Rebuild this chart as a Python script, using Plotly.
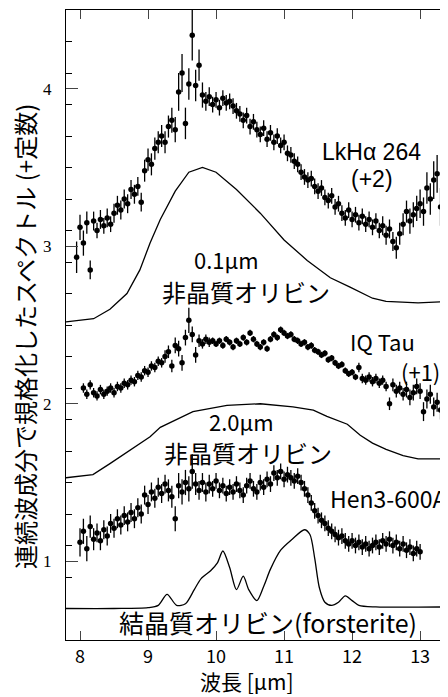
import plotly.graph_objects as go

# ---------------- data ----------------
lk_x = [7.95, 8.00, 8.05, 8.10, 8.15, 8.20, 8.25, 8.30, 8.35, 8.40, 8.45, 8.50, 8.55, 8.60, 8.65, 8.70, 8.75, 8.80, 8.85, 8.90,
        8.95, 9.00, 9.05, 9.10, 9.15, 9.20, 9.25, 9.30, 9.35, 9.40, 9.45, 9.50, 9.55, 9.60, 9.65, 9.70, 9.75, 9.80, 9.85, 9.90,
        9.95, 10.00, 10.05, 10.10, 10.15, 10.20, 10.25, 10.30, 10.35, 10.40, 10.45, 10.50, 10.55, 10.60, 10.65, 10.70, 10.75, 10.80, 10.85, 10.90,
        10.95, 11.00, 11.05, 11.10, 11.15, 11.20, 11.25, 11.30, 11.35, 11.40, 11.45, 11.50, 11.55, 11.60, 11.65, 11.70, 11.75, 11.80, 11.85, 11.90,
        11.95, 12.00, 12.05, 12.10, 12.15, 12.20, 12.25, 12.30, 12.35, 12.40, 12.45, 12.50, 12.55, 12.60, 12.65, 12.70, 12.75, 12.80, 12.85, 12.90,
        12.95, 13.00, 13.05, 13.10, 13.15, 13.20, 13.25, 13.30, 13.35, 13.40]
lk_y = [2.93, 3.12, 3.02, 3.15, 2.85, 3.16, 3.10, 3.17, 3.13, 3.18, 3.14, 3.21, 3.26, 3.23, 3.30, 3.27, 3.36, 3.33, 3.38, 3.28,
        3.48, 3.55, 3.52, 3.62, 3.66, 3.70, 3.66, 3.76, 3.80, 3.74, 3.98, 4.10, 3.78, 4.03, 4.34, 4.02, 4.15, 3.96, 3.92, 3.95,
        3.90, 3.93, 3.88, 3.94, 3.91, 3.92, 3.89, 3.86, 3.84, 3.80, 3.83, 3.76, 3.79, 3.74, 3.71, 3.75, 3.68, 3.72, 3.66, 3.70,
        3.64, 3.66, 3.59, 3.58, 3.54, 3.52, 3.47, 3.44, 3.42, 3.43, 3.38, 3.35, 3.37, 3.31, 3.29, 3.32, 3.25, 3.27, 3.21, 3.18,
        3.23, 3.17, 3.20, 3.15, 3.19, 3.14, 3.17, 3.12, 3.16, 3.10, 3.13, 3.07, 3.11, 3.03, 2.99, 3.08, 3.14, 3.22, 3.16, 3.20,
        3.24, 3.27, 3.22, 3.37, 3.30, 3.42, 3.46, 3.25, 3.36, 3.57]
lk_err = [0.10, 0.08, 0.08, 0.07, 0.06, 0.06, 0.05, 0.06, 0.05, 0.06, 0.05, 0.06, 0.06, 0.06, 0.06, 0.06, 0.06, 0.06, 0.06, 0.06,
          0.07, 0.07, 0.07, 0.07, 0.07, 0.07, 0.07, 0.07, 0.08, 0.08, 0.12, 0.12, 0.10, 0.10, 0.16, 0.10, 0.10, 0.08, 0.06, 0.06,
          0.05, 0.05, 0.05, 0.05, 0.05, 0.05, 0.05, 0.05, 0.05, 0.05, 0.05, 0.05, 0.05, 0.05, 0.05, 0.05, 0.05, 0.05, 0.05, 0.05,
          0.05, 0.05, 0.05, 0.05, 0.05, 0.05, 0.05, 0.05, 0.05, 0.05, 0.05, 0.05, 0.05, 0.05, 0.05, 0.05, 0.05, 0.05, 0.05, 0.05,
          0.05, 0.05, 0.05, 0.05, 0.05, 0.05, 0.05, 0.05, 0.05, 0.05, 0.06, 0.06, 0.06, 0.06, 0.07, 0.07, 0.07, 0.07, 0.08, 0.08,
          0.08, 0.09, 0.09, 0.10, 0.10, 0.12, 0.12, 0.12, 0.12, 0.12]

iq_x = [8.05, 8.10, 8.15, 8.20, 8.25, 8.30, 8.35, 8.40, 8.45, 8.50, 8.55, 8.60, 8.65, 8.70, 8.75, 8.80, 8.85, 8.90,
        8.95, 9.00, 9.05, 9.10, 9.15, 9.20, 9.25, 9.30, 9.35, 9.40, 9.45, 9.50, 9.55, 9.60, 9.65, 9.70, 9.75, 9.80, 9.85, 9.90,
        9.95, 10.00, 10.05, 10.10, 10.15, 10.20, 10.25, 10.30, 10.35, 10.40, 10.45, 10.50, 10.55, 10.60, 10.65, 10.70, 10.75, 10.80, 10.85, 10.90,
        10.95, 11.00, 11.05, 11.10, 11.15, 11.20, 11.25, 11.30, 11.35, 11.40, 11.45, 11.50, 11.55, 11.60, 11.65, 11.70, 11.75, 11.80, 11.85, 11.90,
        11.95, 12.00, 12.05, 12.10, 12.15, 12.20, 12.25, 12.30, 12.35, 12.40, 12.45, 12.50, 12.55, 12.60, 12.65, 12.70, 12.75, 12.80, 12.85, 12.90,
        12.95, 13.00, 13.05, 13.10, 13.15, 13.20, 13.25, 13.30, 13.35, 13.40]
iq_y = [2.10, 2.06, 2.12, 2.07, 2.05, 2.09, 2.06, 2.08, 2.10, 2.07, 2.11, 2.10, 2.13, 2.12, 2.15, 2.14, 2.18, 2.17,
        2.21, 2.20, 2.24, 2.23, 2.27, 2.26, 2.30, 2.33, 2.24, 2.37, 2.35, 2.26, 2.42, 2.53, 2.44, 2.31, 2.40, 2.38, 2.41, 2.39,
        2.40, 2.38, 2.40, 2.37, 2.41, 2.39, 2.36, 2.40, 2.38, 2.42, 2.39, 2.45, 2.41, 2.38, 2.36, 2.39, 2.35, 2.41, 2.44, 2.42,
        2.47, 2.45, 2.43, 2.44, 2.41, 2.40, 2.38, 2.39, 2.36, 2.37, 2.34, 2.33, 2.31, 2.32, 2.28, 2.29, 2.26, 2.24, 2.25, 2.21,
        2.19, 2.20, 2.17, 2.23, 2.16, 2.15, 2.17, 2.14, 2.16, 2.13, 2.15, 2.11, 2.00, 2.12, 2.08, 2.10, 2.06, 2.09, 2.04, 2.07,
        2.11, 2.08, 1.95, 2.03, 2.06, 1.98, 2.01, 1.96, 1.99, 1.93]
iq_err = [0.03, 0.03, 0.03, 0.03, 0.03, 0.03, 0.03, 0.03, 0.03, 0.03, 0.03, 0.03, 0.03, 0.03, 0.03, 0.03, 0.03, 0.03,
          0.03, 0.03, 0.03, 0.03, 0.03, 0.03, 0.04, 0.04, 0.04, 0.05, 0.05, 0.05, 0.05, 0.08, 0.05, 0.05, 0.04, 0.03, 0.03, 0.03,
          0.02, 0.02, 0.02, 0.02, 0.02, 0.02, 0.02, 0.02, 0.02, 0.02, 0.02, 0.02, 0.02, 0.02, 0.02, 0.02, 0.02, 0.02, 0.02, 0.02,
          0.02, 0.02, 0.02, 0.02, 0.02, 0.02, 0.02, 0.02, 0.02, 0.02, 0.02, 0.02, 0.02, 0.02, 0.02, 0.02, 0.02, 0.02, 0.02, 0.02,
          0.02, 0.02, 0.02, 0.03, 0.03, 0.03, 0.03, 0.03, 0.03, 0.03, 0.03, 0.03, 0.04, 0.04, 0.04, 0.04, 0.04, 0.05, 0.05, 0.05,
          0.05, 0.05, 0.06, 0.06, 0.06, 0.06, 0.06, 0.06, 0.06, 0.06]

hen_x = [8.00, 8.05, 8.10, 8.15, 8.20, 8.25, 8.30, 8.35, 8.40, 8.45, 8.50, 8.55, 8.60, 8.65, 8.70, 8.75, 8.80, 8.85, 8.90,
         8.95, 9.00, 9.05, 9.10, 9.15, 9.20, 9.25, 9.30, 9.35, 9.40, 9.45, 9.50, 9.55, 9.60, 9.65, 9.70, 9.75, 9.80, 9.85, 9.90,
         9.95, 10.00, 10.05, 10.10, 10.15, 10.20, 10.25, 10.30, 10.35, 10.40, 10.45, 10.50, 10.55, 10.60, 10.65, 10.70, 10.75, 10.80, 10.85, 10.90,
         10.95, 11.00, 11.05, 11.10, 11.15, 11.20, 11.25, 11.30, 11.35, 11.40, 11.45, 11.50, 11.55, 11.60, 11.65, 11.70, 11.75, 11.80, 11.85, 11.90,
         11.95, 12.00, 12.05, 12.10, 12.15, 12.20, 12.25, 12.30, 12.35, 12.40, 12.45, 12.50, 12.55, 12.60, 12.65, 12.70, 12.75, 12.80, 12.85, 12.90,
         12.95, 13.00]
hen_y = [1.12, 1.19, 1.08, 1.22, 1.14, 1.18, 1.13, 1.20, 1.16, 1.24, 1.21, 1.27, 1.23, 1.29, 1.25, 1.31, 1.27, 1.34, 1.30,
         1.42, 1.36, 1.44, 1.40, 1.47, 1.43, 1.49, 1.45, 1.41, 1.27, 1.48, 1.44, 1.50, 1.46, 1.57, 1.49, 1.45, 1.50, 1.44, 1.49,
         1.46, 1.51, 1.45, 1.48, 1.43, 1.47, 1.44, 1.49, 1.45, 1.42, 1.48, 1.51, 1.46, 1.44, 1.50, 1.47, 1.52, 1.49, 1.56, 1.53,
         1.57, 1.52, 1.55, 1.53, 1.51, 1.54, 1.50, 1.46, 1.42, 1.37, 1.32, 1.29, 1.26, 1.24, 1.21, 1.19, 1.17, 1.15, 1.16, 1.13,
         1.11, 1.13, 1.10, 1.12, 1.09, 1.11, 1.08, 1.10, 1.12, 1.09, 1.13, 1.11, 1.14, 1.10, 1.12, 1.08, 1.11, 1.07, 1.09, 1.05,
         1.08, 1.06]
hen_err = [0.09, 0.08, 0.08, 0.07, 0.07, 0.06, 0.06, 0.06, 0.06, 0.06, 0.06, 0.06, 0.06, 0.06, 0.06, 0.06, 0.06, 0.06, 0.06,
           0.06, 0.06, 0.06, 0.06, 0.06, 0.06, 0.06, 0.07, 0.07, 0.08, 0.08, 0.08, 0.08, 0.08, 0.11, 0.07, 0.06, 0.06, 0.06, 0.06,
           0.05, 0.05, 0.05, 0.05, 0.05, 0.05, 0.05, 0.05, 0.05, 0.05, 0.05, 0.05, 0.05, 0.05, 0.05, 0.05, 0.05, 0.05, 0.05, 0.05,
           0.05, 0.05, 0.05, 0.05, 0.05, 0.05, 0.05, 0.05, 0.05, 0.05, 0.05, 0.05, 0.05, 0.05, 0.05, 0.05, 0.05, 0.05, 0.05, 0.05,
           0.05, 0.05, 0.05, 0.05, 0.05, 0.05, 0.05, 0.05, 0.05, 0.05, 0.05, 0.05, 0.05, 0.05, 0.05, 0.05, 0.05, 0.05, 0.05, 0.05,
           0.05, 0.05]

am01_x = [7.79, 8.20, 8.44, 8.69, 8.88, 9.03, 9.18, 9.40, 9.60, 9.80, 10.00, 10.30, 10.65, 11.00, 11.34, 11.68, 11.97, 12.30, 12.50, 12.97, 13.45]
am01_y = [2.52, 2.54, 2.60, 2.70, 2.85, 3.02, 3.17, 3.35, 3.47, 3.50, 3.47, 3.36, 3.21, 3.04, 2.91, 2.80, 2.74, 2.67, 2.65, 2.64, 2.65]

am20_x = [7.79, 8.19, 8.44, 8.69, 9.03, 9.18, 9.66, 10.16, 10.65, 11.13, 11.43, 11.63, 11.93, 12.12, 12.30, 12.50, 12.75, 12.97, 13.45]
am20_y = [1.53, 1.55, 1.62, 1.69, 1.79, 1.85, 1.95, 1.99, 2.00, 1.98, 1.96, 1.92, 1.87, 1.80, 1.75, 1.71, 1.67, 1.65, 1.65]

fo_x = [7.79, 8.50, 9.00, 9.15, 9.28, 9.42, 9.55, 9.68, 9.78, 9.92, 10.02, 10.10, 10.20, 10.30, 10.40, 10.48, 10.60, 10.70, 10.80,
        10.95, 11.12, 11.30, 11.38, 11.45, 11.52, 11.60, 11.70, 11.80, 11.90, 12.00, 12.10, 12.35, 13.45]
fo_y = [0.70, 0.70, 0.705, 0.72, 0.79, 0.72, 0.73, 0.82, 0.89, 0.94, 0.99, 1.065, 0.96, 0.82, 0.905, 0.82, 0.75, 0.84, 0.95,
        1.07, 1.14, 1.20, 1.17, 1.02, 0.83, 0.74, 0.72, 0.74, 0.78, 0.75, 0.72, 0.71, 0.71]

y_ticks = [1, 2, 3, 4]
x_ticks = [8, 9, 10, 11, 12, 13]

JP = "Noto Sans CJK JP"

fig = go.Figure()

for xs, ys in [(am01_x, am01_y), (am20_x, am20_y)]:
    fig.add_trace(go.Scatter(x=xs, y=ys, mode="lines", line=dict(color="black", width=1.3), hoverinfo="skip"))
fig.add_trace(go.Scatter(x=fo_x, y=fo_y, mode="lines", line=dict(color="black", width=1.3, shape="spline", smoothing=0.8),
                         hoverinfo="skip"))

for xs, ys, es in [(lk_x, lk_y, lk_err), (iq_x, iq_y, iq_err), (hen_x, hen_y, hen_err)]:
    fig.add_trace(go.Scatter(
        x=xs, y=ys, mode="markers",
        marker=dict(color="black", size=5.5),
        error_y=dict(type="data", array=es, width=0, thickness=1.3, color="black"),
    ))

# dummy trace for right-side tick marks
fig.add_trace(go.Scatter(x=[None], y=[None], yaxis="y2", showlegend=False))

ann = [
    ("LkHα 264", 12.28, 3.60, "Liberation Sans", 23),
    ("(+2)", 12.29, 3.43, "Liberation Sans", 23),
    ("IQ Tau", 12.44, 2.40, JP, 22),
    ("(+1)", 13.00, 2.21, JP, 22),
    ("Hen3-600A", 12.53, 1.40, JP, 23),
    ("0.1μm", 10.16, 2.92, JP, 22),
    ("非晶質オリビン", 10.44, 2.71, JP, 24),
    ("2.0μm", 10.38, 1.89, JP, 22),
    ("非晶質オリビン", 10.47, 1.69, JP, 24),
    ("結晶質オリビン(forsterite)", 10.765, 0.614, JP, 25),
]
annotations = [dict(text=t, x=x, y=y, xref="x", yref="y", showarrow=False,
                    font=dict(family=f, size=s, color="black"), xanchor="center", yanchor="middle")
               for t, x, y, f, s in ann]

# page has an 8px body margin: figure pixel = screenshot pixel - 8
OFF = 8
W, H = 440, 689
L, R, T, B = 66 - OFF, 0, 10 - OFF, H - (640 - OFF)

titles = [
    ("波長 [μm]", 247, 681, 0, 21),
    ("連続波成分で規格化したスペクトル (+定数)", 25, 337, -90, 24),
]
for t, sx, sy, ang, sz in titles:
    fx, fy = sx - OFF, sy - OFF
    annotations.append(dict(text=t, x=(fx - L) / (W - L - R), y=(H - B - fy) / (H - T - B),
                            xref="paper", yref="paper", showarrow=False, textangle=ang,
                            xanchor="center", yanchor="middle",
                            font=dict(family=JP, size=sz, color="black")))

fig.update_layout(
    width=W, height=H,
    margin=dict(l=L, r=R, t=T, b=B),
    paper_bgcolor="white", plot_bgcolor="white",
    showlegend=False,
    font=dict(family=JP, color="black"),
    annotations=annotations,
    xaxis=dict(range=[7.794, 13.41], tickvals=x_ticks, ticks="inside", ticklen=9, tickwidth=1.2,
               showline=True, linecolor="black", linewidth=1.3, mirror="ticks", showgrid=False, zeroline=False,
               tickfont=dict(family=JP, size=18, color="black"), ticklabelstandoff=0),
    yaxis=dict(range=[0.5, 4.5], tickvals=y_ticks, ticks="inside", ticklen=12, tickwidth=1.2,
               showline=True, linecolor="black", linewidth=1.3, mirror=False, showgrid=False, zeroline=False,
               tickfont=dict(family="Liberation Serif", size=17, color="black"), ticklabelstandoff=10,
               minor=dict(dtick=0.2, tick0=0.5, ticks="inside", ticklen=6, tickwidth=1.2, tickcolor="black", showgrid=False)),
    yaxis2=dict(range=[0.5, 4.5], overlaying="y", side="right", tickvals=y_ticks, ticks="inside", ticklen=5,
                tickwidth=1.2, tickcolor="black", showticklabels=False, showline=False, showgrid=False, zeroline=False),
)

fig.write_html("out.html")
